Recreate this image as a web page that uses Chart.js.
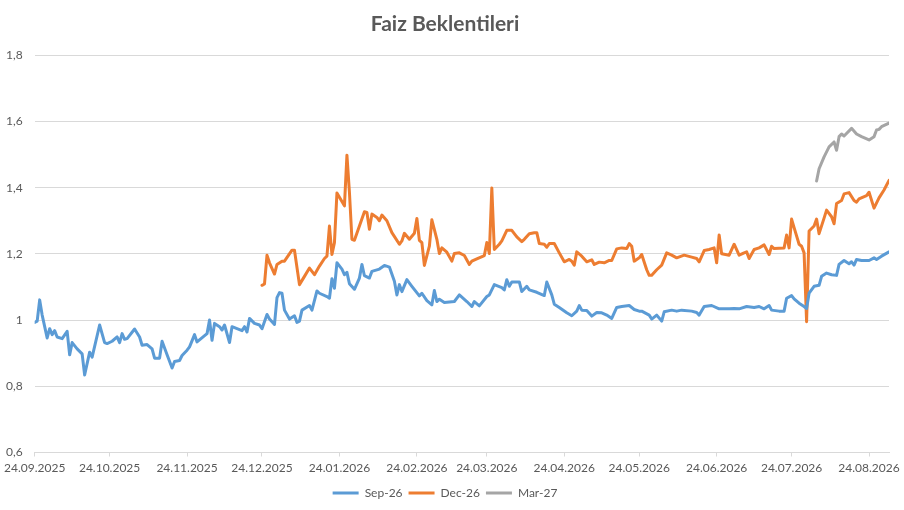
<!DOCTYPE html>
<html>
<head>
<meta charset="utf-8">
<title>Faiz Beklentileri</title>
<script src="https://cdn.jsdelivr.net/npm/chart.js@4.4.1/dist/chart.umd.min.js"></script>
<style>
  html, body { margin: 0; padding: 0; background: #fff; }
  #kutu { width: 904px; height: 510px; }
</style>
</head>
<body>
<div id="kutu"><canvas id="grafik" width="904" height="510"></canvas></div>
<script>
// x degerleri: 24.09.2025'ten itibaren gun sayisi
const seriAdlari = ['Sep-26', 'Dec-26', 'Mar-27'];
const seriRenkleri = ['#5B9BD5', '#ED7D31', '#A5A5A5'];
const eksenEtiketleri = ['24.09.2025', '24.10.2025', '24.11.2025', '24.12.2025', '24.01.2026', '24.02.2026',
    '24.03.2026', '24.04.2026', '24.05.2026', '24.06.2026', '24.07.2026', '24.08.2026'];
const yEtiketleri = [0.6, 0.8, 1, 1.2, 1.4, 1.6, 1.8];
const sonGun = 342;

const sepGunler = [0,1,2,3,5,6,7,8,9,11, 13,14,15,17,19,20,22,23,26,28, 29,31,33,34,35,36,37,40,42,43,
    45,47,48,50,51,53,55,56,58,59, 61,62,64,65,69,70,71,72,74,75, 76,78,79,81,83,84,85,86,88,90,
    91,93,94,96,97,98,99,100,102,104, 105,106,107,110,111,113,114,117,118,119, 120,121,123,124,125,126,128,130,131,132,
    134,135,138,140,142,144,145,146,147,149, 151,154,155,157,159,160,161,162,164,168, 170,173,175,176,178,181,182,184,187,188,
    189,190,191,194,195,197,198,201,204,205, 207,208,210,213,215,217,218,219,221,223, 225,227,229,231,233,235,238,240,242,243,
    246,247,249,251,252,255,257,259,263,265, 266,268,271,274,278,280,282,285,288,290, 292,294,295,298,300,301,303,304,306,308,
    309,310,312,314,315,317,319,321,322,324, 326,327,328,329,331,334,336,337,339,342];
const sepDegerler = [0.993,0.997,1.061,1.015,0.946,0.974,0.956,0.968,0.949,0.944,
    0.966,0.895,0.932,0.913,0.898,0.834,0.903,0.888,0.985,0.932, 0.929,0.936,0.949,0.932,0.959,0.942,0.944,0.973,0.949,0.924,
    0.926,0.913,0.885,0.885,0.936,0.895,0.855,0.875,0.878,0.893, 0.909,0.919,0.956,0.934,0.959,1.000,0.939,0.990,0.980,0.970,
    0.985,0.932,0.980,0.974,0.968,0.980,0.964,1.005,0.990,0.985, 0.974,1.017,1.003,0.987,1.068,1.083,1.081,1.030,1.003,1.013,
    0.993,0.997,1.030,1.044,1.030,1.088,1.081,1.071,1.066,1.125, 1.096,1.173,1.154,1.137,1.144,1.110,1.093,1.127,1.168,1.134,
    1.127,1.147,1.154,1.165,1.160,1.117,1.076,1.107,1.086,1.122, 1.102,1.073,1.081,1.059,1.046,1.089,1.056,1.063,1.053,1.056,
    1.076,1.056,1.041,1.056,1.043,1.071,1.076,1.107,1.098,1.091, 1.122,1.102,1.115,1.115,1.086,1.102,1.091,1.084,1.074,1.115,
    1.076,1.048,1.038,1.022,1.013,1.027,1.044,1.030,1.029,1.012, 1.023,1.022,1.015,1.005,1.038,1.041,1.044,1.032,1.027,1.027,
    1.015,1.003,1.015,0.997,1.025,1.030,1.027,1.030,1.027,1.023, 1.015,1.041,1.044,1.034,1.034,1.035,1.034,1.041,1.038,1.041,
    1.034,1.044,1.030,1.027,1.027,1.066,1.074,1.064,1.051,1.041, 1.035,1.081,1.102,1.105,1.132,1.142,1.137,1.135,1.168,1.180,
    1.170,1.176,1.166,1.183,1.180,1.180,1.188,1.183,1.193,1.206];

const decGunler = [91,92,93,94,96,97,99,100,103,104, 106,108,110,112,114,116,117,118,119,120,
    121,122,124,125,126,127,128,130,132,133, 134,135,137,138,139,141,143,146,147,148, 150,152,153,154,155,156,158,159,161,162,
    163,165,167,168,170,172,174,175,177,180, 181,182,183,184,186,187,189,191,193,195, 196,198,200,201,202,204,205,206,208,210,
    212,214,215,216,217,219,221,223,224,226, 228,230,231,233,235,237,238,239,240,242, 243,245,246,247,249,251,253,255,257,260,
    263,265,266,268,270,272,273,274,275,278, 280,282,284,285,286,288,290,292,294,295, 296,300,301,302,303,304,306,307,308,309,
    310,312,313,314,316,317,319,320,321,323, 324,326,328,329,330,333,334,336,338,340, 342];
const decDegerler = [1.105,1.109,1.196,1.173,1.139,1.168,1.178,1.178,1.211,1.211,
    1.107,1.132,1.157,1.137,1.163,1.186,1.193,1.284,1.198,1.234, 1.384,1.371,1.345,1.498,1.386,1.244,1.241,1.284,1.327,1.325,
    1.274,1.320,1.310,1.300,1.317,1.300,1.264,1.229,1.239,1.262, 1.244,1.262,1.307,1.241,1.234,1.165,1.223,1.303,1.244,1.201,
    1.218,1.205,1.178,1.201,1.203,1.195,1.168,1.178,1.185,1.195, 1.234,1.201,1.399,1.213,1.229,1.239,1.271,1.271,1.251,1.237,
    1.244,1.261,1.264,1.264,1.231,1.229,1.220,1.231,1.231,1.203, 1.176,1.183,1.178,1.166,1.206,1.193,1.176,1.182,1.168,1.175,
    1.173,1.180,1.180,1.215,1.218,1.216,1.231,1.223,1.178,1.188, 1.198,1.152,1.135,1.135,1.152,1.166,1.203,1.196,1.188,1.196,
    1.190,1.186,1.176,1.210,1.213,1.218,1.173,1.257,1.200,1.196, 1.229,1.196,1.203,1.206,1.186,1.213,1.218,1.227,1.198,1.223,
    1.216,1.218,1.257,1.218,1.305,1.279,1.229,1.223,1.203,0.995, 1.269,1.284,1.305,1.261,1.308,1.332,1.312,1.291,1.352,1.361,
    1.381,1.385,1.361,1.356,1.366,1.376,1.386,1.338,1.369,1.393, 1.422];

const marGunler = [313,314,316,318,320,321,322,323,324,327,329,331,334,336,337,338,339,342];
const marDegerler = [1.420,1.457,1.493,1.523,1.538,1.513,1.554,1.562,1.556,1.579,1.562,1.554,1.544,1.554,1.574,1.576,1.584,1.595];

// "gg.aa.yyyy" -> ilk tarihten gun farki
function gunFarki(etiket) {
    const [g, a, y] = etiket.split('.').map(Number);
    const [g0, a0, y0] = eksenEtiketleri[0].split('.').map(Number);
    return Math.round((Date.UTC(y, a - 1, g) - Date.UTC(y0, a0 - 1, g0)) / 86400000);
}

function noktalar(gunler, degerler) {
    return gunler.map((g, i) => ({ x: g, y: degerler[i] }));
}

function virgullu(v) {
    return String(Math.round(v * 10) / 10).replace('.', ',');
}

const yaziRengi = '#595959';
const yaziTipi = "Lato, 'Open Sans', sans-serif";

const seriler = [
    noktalar(sepGunler, sepDegerler),
    noktalar(decGunler, decDegerler),
    noktalar(marGunler, marDegerler)
];

const ctx = document.getElementById('grafik').getContext('2d');
new Chart(ctx, {
    type: 'line',
    data: {
        datasets: seriler.map((veri, i) => ({
            label: seriAdlari[i],
            data: veri,
            borderColor: seriRenkleri[i],
            backgroundColor: seriRenkleri[i],
            borderWidth: 3,
            pointRadius: 0,
            tension: 0,
            borderJoinStyle: 'round',
            borderCapStyle: 'round',
            fill: false
        }))
    },
    options: {
        responsive: false,
        animation: false,
        layout: { padding: { left: 0, right: 14, top: 0, bottom: 1 } },
        plugins: {
            title: {
                display: true,
                text: 'Faiz Beklentileri',
                color: yaziRengi,
                font: { family: yaziTipi, size: 21, weight: 'bold' },
                padding: { top: 12, bottom: 18 }
            },
            legend: {
                position: 'bottom',
                labels: {
                    color: yaziRengi,
                    font: { family: yaziTipi, size: 12 },
                    usePointStyle: true,
                    pointStyle: 'line',
                    pointStyleWidth: 26,
                    boxHeight: 8,
                    padding: 6
                }
            },
            tooltip: { enabled: false }
        },
        scales: {
            x: {
                type: 'linear',
                min: 0,
                max: sonGun,
                afterBuildTicks: (eksen) => {
                    eksen.ticks = eksenEtiketleri.map(e => ({ value: gunFarki(e) }));
                },
                afterFit: (eksen) => { eksen.height = 28.5; },
                ticks: {
                    autoSkip: false,
                    maxRotation: 0,
                    color: yaziRengi,
                    font: { family: yaziTipi, size: 12 },
                    padding: 4,
                    callback: (v, i) => eksenEtiketleri[i]
                },
                grid: {
                    drawOnChartArea: false,
                    drawTicks: true,
                    tickLength: 4,
                    color: '#D9D9D9'
                },
                border: { display: true, color: '#D9D9D9', width: 1 }
            },
            y: {
                min: yEtiketleri[0],
                max: yEtiketleri[yEtiketleri.length - 1],
                afterBuildTicks: (eksen) => {
                    eksen.ticks = yEtiketleri.map(v => ({ value: v }));
                },
                afterFit: (eksen) => { eksen.width = 33; },
                ticks: {
                    color: yaziRengi,
                    font: { family: yaziTipi, size: 12 },
                    padding: 12,
                    callback: (v) => virgullu(v)
                },
                grid: {
                    color: '#D9D9D9',
                    drawTicks: false
                },
                border: { display: false }
            }
        }
    }
});
</script>
</body>
</html>
